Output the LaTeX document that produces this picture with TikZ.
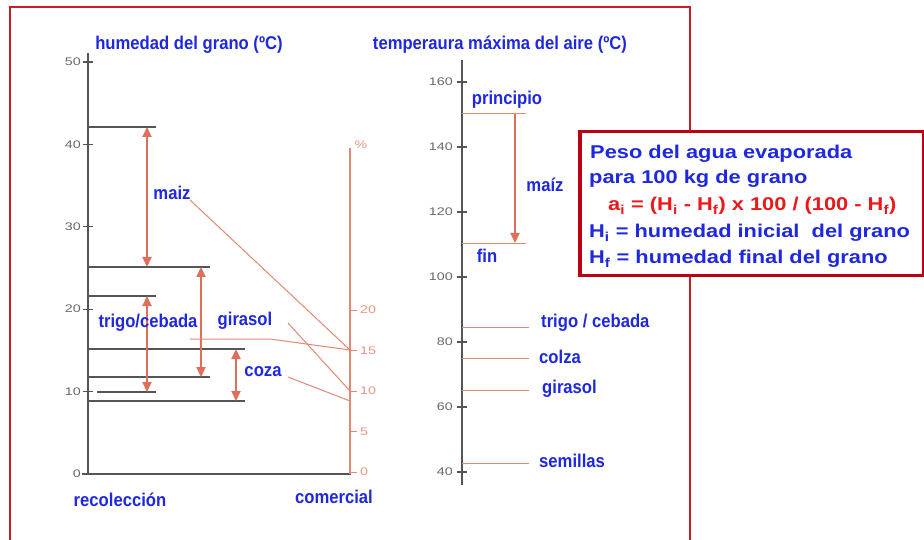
\documentclass[tikz,border=0pt]{standalone}
\usepackage{fontspec}
\setmainfont{Liberation Sans}
\newfontfamily\lblfont[FakeStretch=0.9]{Liberation Sans}
\newfontfamily\boxfont[FakeStretch=1.18]{Liberation Sans}
\newfontfamily\tickfont[FakeStretch=1.3]{Liberation Sans}
\usetikzlibrary{arrows.meta}
\definecolor{lblblue}{RGB}{30,40,225}
\definecolor{axisgray}{RGB}{85,85,85}
\definecolor{tickgray}{RGB}{105,105,105}
\definecolor{arrowred}{RGB}{222,112,90}
\definecolor{leadred}{RGB}{228,135,115}
\definecolor{pctred}{RGB}{232,150,130}
\definecolor{framered}{RGB}{205,30,40}
\definecolor{boxred}{RGB}{185,0,20}
\definecolor{formred}{RGB}{235,25,25}
\tikzset{
  axisline/.style={draw=axisgray, line width=1.4pt},
  hline/.style={draw=axisgray, line width=1.1pt},
  dbl/.style={draw=arrowred, line width=2.2pt, {Triangle[length=10pt,width=9pt]}-{Triangle[length=10pt,width=9pt]}},
  sgl/.style={draw=arrowred, line width=2.2pt, -{Triangle[length=10pt,width=9pt]}},
  lead/.style={draw=leadred, line width=1pt},
  lbl/.style={text=lblblue, font=\lblfont\bfseries\fontsize{18.5}{20}\selectfont, inner sep=0pt},
  ticklbl/.style={text=tickgray, font=\tickfont\fontsize{11}{12}\selectfont, inner sep=0pt},
  pctlbl/.style={text=pctred, font=\tickfont\fontsize{11}{12}\selectfont, inner sep=0pt},
  boxtxt/.style={text=lblblue, font=\boxfont\bfseries\fontsize{18.5}{20}\selectfont, inner sep=0pt, anchor=base west},
}
\begin{document}
\begin{tikzpicture}[x=1pt,y=-1pt]
\useasboundingbox (0,0) rectangle (924,540);
\fill[white] (0,0) rectangle (924,540);
% outer frame
\draw[draw=framered, line width=2.2pt] (10,541) -- (10,7) -- (690,7) -- (690,541);

% ===== left chart =====
\coordinate (ltop) at (88,53);
\coordinate (lorig) at (88,474);
\coordinate (rbot) at (351,474);
\draw[axisline] (ltop) -- (lorig);
\draw[axisline] (82,474) -- (rbot);
\foreach \v in {0,10,20,30,40,50}{
  \pgfmathsetmacro\yy{474-8.24*\v}
  \draw[axisline] (83,\yy) -- (93,\yy);
  \node[ticklbl, anchor=east] (lt\v) at (81,\yy) {\v};
}
\node[lbl] (title1) at (189,45) {humedad del grano (ºC)};

% horizontal levels
\coordinate (a1) at (88,127);  \coordinate (b1) at (156,127);
\coordinate (a2) at (88,267);  \coordinate (b2) at (210,267);
\coordinate (a3) at (88,296);  \coordinate (b3) at (156,296);
\coordinate (a4) at (88,349);  \coordinate (b4) at (245,349);
\coordinate (a5) at (88,377);  \coordinate (b5) at (210,377);
\coordinate (a6) at (97,392);  \coordinate (b6) at (156,392);
\coordinate (a7) at (88,401);  \coordinate (b7) at (245,401);
\foreach \i in {1,...,7}{\draw[hline] (a\i) -- (b\i);}

% double arrows
\coordinate (m1) at (147,127); \coordinate (m2) at (147,267);
\coordinate (t1) at (147,296); \coordinate (t2) at (147,392);
\coordinate (g1) at (201,267); \coordinate (g2) at (201,377);
\coordinate (c1) at (236,349); \coordinate (c2) at (236,401);
\draw[dbl] (m1) -- (m2);
\draw[dbl] (t1) -- (t2);
\draw[dbl] (g1) -- (g2);
\draw[dbl] (c1) -- (c2);

\node[lbl] (lmaiz) at (172,193) {maiz};
\node[lbl] (ltrigo) at (148,323) {trigo/cebada};
\node[lbl] (lgira) at (245,321) {girasol};
\node[lbl] (lcoza) at (263,372) {coza};

% percent axis
\coordinate (ptop) at (350,148);
\coordinate (pbot) at (350,474);
\draw[draw=leadred, line width=1.1pt] (ptop) -- (pbot);
\node[pctlbl] (pct) at (361,145) {\%};
\foreach \v in {0,5,10,15,20}{
  \pgfmathsetmacro\yy{472-8.1*\v}
  \draw[draw=leadred, line width=1pt] (350,\yy) -- (357,\yy);
  \node[pctlbl, anchor=west] (pt\v) at (360,\yy) {\v};
}
\coordinate (p15) at (350,350);
\coordinate (p10) at (350,391);
\coordinate (p9) at (350,401);
\coordinate (lm0) at (190,200);
\coordinate (lt0) at (190,339);
\coordinate (lt1) at (270,339);
\coordinate (lg0) at (288,323);
\coordinate (lc0) at (288,377);
\draw[lead] (lm0) -- (p15);
\draw[lead] (lt0) -- (lt1) -- (p15);
\draw[lead] (lg0) -- (p10);
\draw[lead] (lc0) -- (p9);

\node[lbl] (recol) at (120,500) {recolección};
\node[lbl] (comer) at (334,497) {comercial};

% ===== right chart =====
\node[lbl] (title2) at (500,45) {temperaura máxima del aire (ºC)};
\coordinate (rtop) at (462,60);
\coordinate (rbt) at (462,485);
\draw[axisline] (rtop) -- (rbt);
\foreach \t in {40,60,80,100,120,140,160}{
  \pgfmathsetmacro\yy{472-3.25*(\t-40)}
  \draw[axisline] (457,\yy) -- (467,\yy);
  \node[ticklbl, anchor=east] (rt\t) at (453,\yy) {\t};
}
\coordinate (pr0) at (462,114); \coordinate (pr1) at (526,114);
\coordinate (fn0) at (462,244); \coordinate (fn1) at (526,244);
\draw[lead] (pr0) -- (pr1);
\draw[lead] (fn0) -- (fn1);
\coordinate (ar0) at (515,114); \coordinate (ar1) at (515,243);
\draw[sgl] (ar0) -- (ar1);
\node[lbl] (lprin) at (507,100) {principio};
\node[lbl] (lfin) at (487,256) {fin};
\node[lbl] (lmaiz2) at (545,185) {maíz};

\coordinate (s10) at (462,327); \coordinate (s11) at (529,327);
\coordinate (s20) at (462,358); \coordinate (s21) at (529,358);
\coordinate (s30) at (462,390); \coordinate (s31) at (529,390);
\coordinate (s40) at (462,463); \coordinate (s41) at (529,463);
\draw[lead] (s10) -- (s11);
\draw[lead] (s20) -- (s21);
\draw[lead] (s30) -- (s31);
\draw[lead] (s40) -- (s41);
\node[lbl, anchor=west] (ltr2) at (541,323) {trigo / cebada};
\node[lbl, anchor=west] (lco2) at (539,357) {colza};
\node[lbl, anchor=west] (lgi2) at (542,389) {girasol};
\node[lbl, anchor=west] (lse2) at (539,461) {semillas};

% ===== formula box =====
\node[draw=boxred, line width=3.5pt, fill=white, minimum width=344pt, minimum height=144pt, anchor=north west, inner sep=0pt] (box) at (578,130) {};
\node[boxtxt] (bx1) at (590,159) {Peso del agua evaporada};
\node[boxtxt] (bx2) at (589,184) {para 100 kg de grano};
\node[boxtxt, text=formred] (bx3) at (608,211) {a\textsubscript{i} = (H\textsubscript{i} - H\textsubscript{f}) x 100 / (100 - H\textsubscript{f})};
\node[boxtxt] (bx4) at (589,238) {H\textsubscript{i} = humedad inicial\ \ del grano};
\node[boxtxt] (bx5) at (589,264) {H\textsubscript{f} = humedad final del grano};
\end{tikzpicture}
\end{document}
